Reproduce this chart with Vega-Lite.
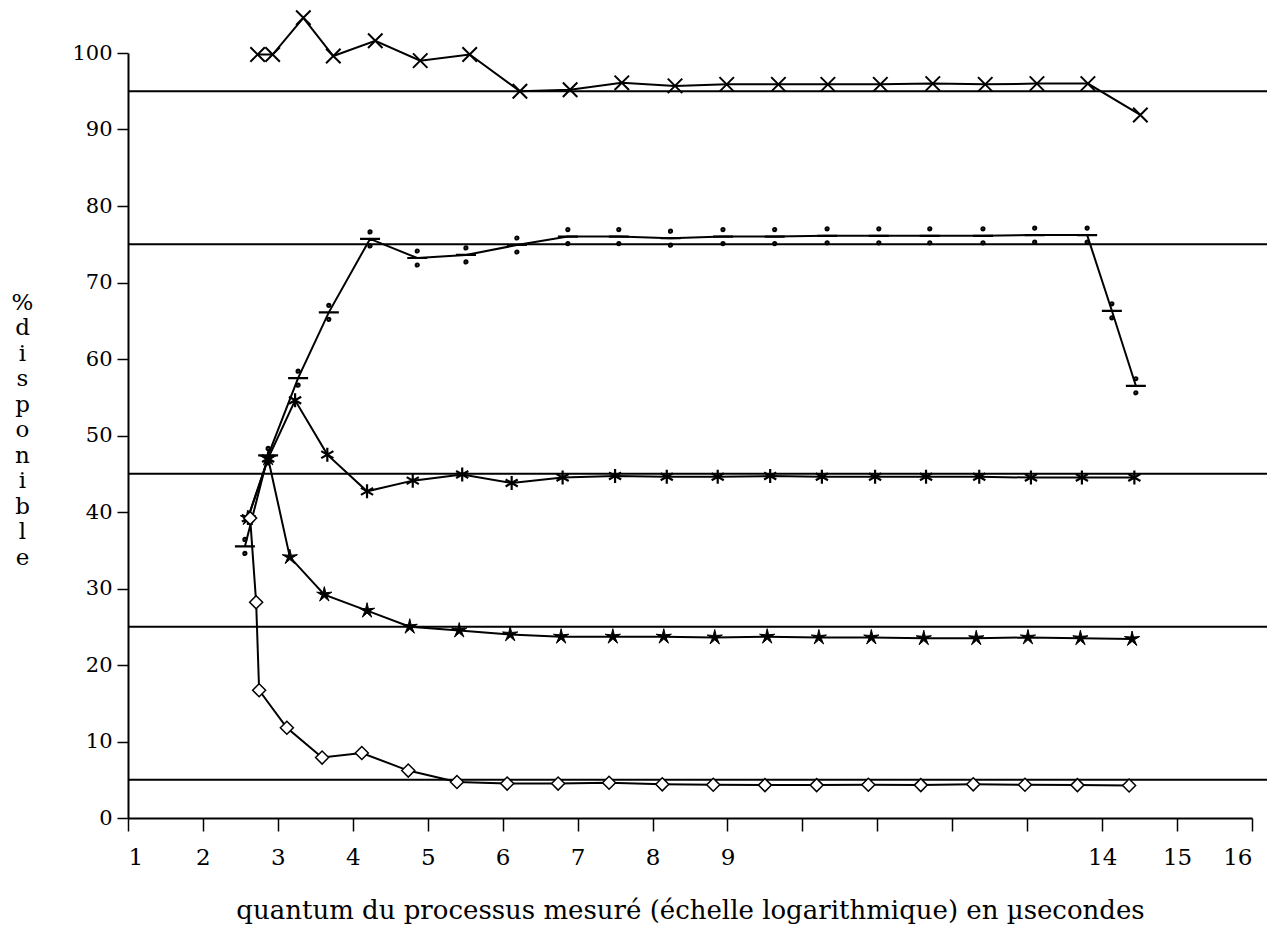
{
  "$schema": "https://vega.github.io/schema/vega-lite/v6.json",
  "autosize": "none",
  "width": 1124,
  "height": 765,
  "padding": {"left": 128, "top": 53, "right": 33, "bottom": 123},
  "background": "white",
  "datasets": {
    "niveaux": [
      {"y": 95, "x": 1, "x_fin": 16.2},
      {"y": 75, "x": 1, "x_fin": 16.2},
      {"y": 45, "x": 1, "x_fin": 16.2},
      {"y": 25, "x": 1, "x_fin": 16.2},
      {"y": 5, "x": 1, "x_fin": 16.2}
    ],
    "mesures": [
      {"serie": "croix", "x": 2.73, "y": 99.8},
      {"serie": "croix", "x": 2.93, "y": 99.8},
      {"serie": "croix", "x": 3.34, "y": 104.6},
      {"serie": "croix", "x": 3.74, "y": 99.6},
      {"serie": "croix", "x": 4.30, "y": 101.6},
      {"serie": "croix", "x": 4.90, "y": 99.0},
      {"serie": "croix", "x": 5.56, "y": 99.8},
      {"serie": "croix", "x": 6.23, "y": 95.0},
      {"serie": "croix", "x": 6.90, "y": 95.2},
      {"serie": "croix", "x": 7.59, "y": 96.1},
      {"serie": "croix", "x": 8.30, "y": 95.7},
      {"serie": "croix", "x": 8.99, "y": 95.9},
      {"serie": "croix", "x": 9.68, "y": 95.9},
      {"serie": "croix", "x": 10.34, "y": 95.9},
      {"serie": "croix", "x": 11.04, "y": 95.9},
      {"serie": "croix", "x": 11.74, "y": 96.0},
      {"serie": "croix", "x": 12.44, "y": 95.9},
      {"serie": "croix", "x": 13.13, "y": 96.0},
      {"serie": "croix", "x": 13.81, "y": 96.0},
      {"serie": "croix", "x": 14.51, "y": 91.9},

      {"serie": "division", "x": 2.56, "y": 35.5},
      {"serie": "division", "x": 2.87, "y": 47.4},
      {"serie": "division", "x": 3.27, "y": 57.5},
      {"serie": "division", "x": 3.68, "y": 66.1},
      {"serie": "division", "x": 4.23, "y": 75.7},
      {"serie": "division", "x": 4.86, "y": 73.2},
      {"serie": "division", "x": 5.51, "y": 73.6},
      {"serie": "division", "x": 6.19, "y": 74.9},
      {"serie": "division", "x": 6.87, "y": 76.0},
      {"serie": "division", "x": 7.55, "y": 76.0},
      {"serie": "division", "x": 8.24, "y": 75.8},
      {"serie": "division", "x": 8.94, "y": 76.0},
      {"serie": "division", "x": 9.63, "y": 76.0},
      {"serie": "division", "x": 10.33, "y": 76.1},
      {"serie": "division", "x": 11.02, "y": 76.1},
      {"serie": "division", "x": 11.70, "y": 76.1},
      {"serie": "division", "x": 12.41, "y": 76.1},
      {"serie": "division", "x": 13.10, "y": 76.2},
      {"serie": "division", "x": 13.80, "y": 76.2},
      {"serie": "division", "x": 14.13, "y": 66.3},
      {"serie": "division", "x": 14.45, "y": 56.5},

      {"serie": "asterisque", "x": 2.60, "y": 39.2},
      {"serie": "asterisque", "x": 2.87, "y": 47.0},
      {"serie": "asterisque", "x": 3.23, "y": 54.6},
      {"serie": "asterisque", "x": 3.66, "y": 47.5},
      {"serie": "asterisque", "x": 4.19, "y": 42.7},
      {"serie": "asterisque", "x": 4.80, "y": 44.1},
      {"serie": "asterisque", "x": 5.46, "y": 44.9},
      {"serie": "asterisque", "x": 6.12, "y": 43.8},
      {"serie": "asterisque", "x": 6.80, "y": 44.5},
      {"serie": "asterisque", "x": 7.50, "y": 44.7},
      {"serie": "asterisque", "x": 8.19, "y": 44.6},
      {"serie": "asterisque", "x": 8.87, "y": 44.6},
      {"serie": "asterisque", "x": 9.57, "y": 44.7},
      {"serie": "asterisque", "x": 10.26, "y": 44.6},
      {"serie": "asterisque", "x": 10.97, "y": 44.6},
      {"serie": "asterisque", "x": 11.65, "y": 44.6},
      {"serie": "asterisque", "x": 12.36, "y": 44.6},
      {"serie": "asterisque", "x": 13.05, "y": 44.5},
      {"serie": "asterisque", "x": 13.73, "y": 44.5},
      {"serie": "asterisque", "x": 14.43, "y": 44.5},

      {"serie": "etoile", "x": 2.60, "y": 39.2},
      {"serie": "etoile", "x": 2.87, "y": 47.0},
      {"serie": "etoile", "x": 3.16, "y": 34.1},
      {"serie": "etoile", "x": 3.62, "y": 29.2},
      {"serie": "etoile", "x": 4.19, "y": 27.1},
      {"serie": "etoile", "x": 4.76, "y": 25.0},
      {"serie": "etoile", "x": 5.42, "y": 24.5},
      {"serie": "etoile", "x": 6.10, "y": 24.0},
      {"serie": "etoile", "x": 6.78, "y": 23.7},
      {"serie": "etoile", "x": 7.47, "y": 23.7},
      {"serie": "etoile", "x": 8.15, "y": 23.7},
      {"serie": "etoile", "x": 8.83, "y": 23.6},
      {"serie": "etoile", "x": 9.53, "y": 23.7},
      {"serie": "etoile", "x": 10.22, "y": 23.6},
      {"serie": "etoile", "x": 10.92, "y": 23.6},
      {"serie": "etoile", "x": 11.62, "y": 23.5},
      {"serie": "etoile", "x": 12.32, "y": 23.5},
      {"serie": "etoile", "x": 13.01, "y": 23.6},
      {"serie": "etoile", "x": 13.71, "y": 23.5},
      {"serie": "etoile", "x": 14.40, "y": 23.4},

      {"serie": "losange", "x": 2.63, "y": 39.2},
      {"serie": "losange", "x": 2.71, "y": 28.2},
      {"serie": "losange", "x": 2.75, "y": 16.7},
      {"serie": "losange", "x": 3.12, "y": 11.8},
      {"serie": "losange", "x": 3.59, "y": 7.9},
      {"serie": "losange", "x": 4.12, "y": 8.5},
      {"serie": "losange", "x": 4.74, "y": 6.2},
      {"serie": "losange", "x": 5.39, "y": 4.7},
      {"serie": "losange", "x": 6.06, "y": 4.5},
      {"serie": "losange", "x": 6.74, "y": 4.5},
      {"serie": "losange", "x": 7.42, "y": 4.6},
      {"serie": "losange", "x": 8.13, "y": 4.4},
      {"serie": "losange", "x": 8.81, "y": 4.35},
      {"serie": "losange", "x": 9.50, "y": 4.3},
      {"serie": "losange", "x": 10.19, "y": 4.3},
      {"serie": "losange", "x": 10.88, "y": 4.35},
      {"serie": "losange", "x": 11.58, "y": 4.3},
      {"serie": "losange", "x": 12.28, "y": 4.4},
      {"serie": "losange", "x": 12.97, "y": 4.35},
      {"serie": "losange", "x": 13.67, "y": 4.3},
      {"serie": "losange", "x": 14.36, "y": 4.25}
    ]
  },
  "encoding": {
    "x": {
      "field": "x",
      "type": "quantitative",
      "scale": {"domain": [1, 16], "nice": false, "zero": false},
      "axis": {
        "values": [1, 2, 3, 4, 5, 6, 7, 8, 9, 10, 11, 12, 13, 14, 15, 16],
        "labelExpr": "datum.value >= 10 && datum.value <= 13 ? '' : datum.label",
        "title": "quantum du processus mesuré (échelle logarithmique) en µsecondes",
        "grid": false,
        "tickSize": 13,
        "labelPadding": 15,
        "labelFontSize": 23,
        "titleFontSize": 26,
        "titlePadding": 28
      }
    },
    "y": {
      "field": "y",
      "type": "quantitative",
      "scale": {"domain": [0, 100], "nice": false},
      "axis": {
        "values": [0, 10, 20, 30, 40, 50, 60, 70, 80, 90, 100],
        "title": ["%", "d", "i", "s", "p", "o", "n", "i", "b", "l", "e"],
        "grid": false,
        "tickSize": 11,
        "labelPadding": 5,
        "labelFontSize": 21,
        "titleFontSize": 23,
        "titleAngle": 0,
        "titleAlign": "center",
        "titleBaseline": "top",
        "titleX": -106,
        "titleY": 238,
        "titleLineHeight": 25.5
      }
    }
  },
  "layer": [
    {
      "data": {"name": "niveaux"},
      "mark": {"type": "rule", "color": "black", "strokeWidth": 2},
      "encoding": {"x2": {"field": "x_fin"}}
    },
    {
      "data": {"name": "mesures"},
      "mark": {"type": "line", "color": "black", "strokeWidth": 2},
      "encoding": {"detail": {"field": "serie"}}
    },
    {
      "data": {"name": "mesures"},
      "transform": [{"filter": "datum.serie === 'croix'"}],
      "mark": {"type": "point", "shape": "M-1,-1L1,1M-1,1L1,-1", "size": 210, "filled": false, "stroke": "black", "strokeWidth": 2, "opacity": 1}
    },
    {
      "data": {"name": "mesures"},
      "transform": [{"filter": "datum.serie === 'division'"}],
      "mark": {"type": "point", "shape": "M-1,0L1,0M-0.15,-0.7a0.15,0.15 0 1,0 0.3,0a0.15,0.15 0 1,0 -0.3,0M-0.15,0.7a0.15,0.15 0 1,0 0.3,0a0.15,0.15 0 1,0 -0.3,0", "size": 400, "filled": false, "stroke": "black", "strokeWidth": 2.2, "opacity": 1}
    },
    {
      "data": {"name": "mesures"},
      "transform": [{"filter": "datum.serie === 'asterisque'"}],
      "mark": {"type": "point", "shape": "M0,-1L0,1M-0.87,-0.5L0.87,0.5M-0.87,0.5L0.87,-0.5", "size": 196, "filled": false, "stroke": "black", "strokeWidth": 2.2, "opacity": 1}
    },
    {
      "data": {"name": "mesures"},
      "transform": [{"filter": "datum.serie === 'etoile'"}],
      "mark": {"type": "point", "shape": "M0,-1L0.176,-0.243L0.951,-0.309L0.285,0.093L0.588,0.809L0,0.3L-0.588,0.809L-0.285,0.093L-0.951,-0.309L-0.176,-0.243Z", "size": 256, "filled": true, "fill": "black", "stroke": "black", "strokeWidth": 1, "opacity": 1}
    },
    {
      "data": {"name": "mesures"},
      "transform": [{"filter": "datum.serie === 'losange'"}],
      "mark": {"type": "point", "shape": "diamond", "size": 169, "filled": true, "fill": "white", "stroke": "black", "strokeWidth": 1.5, "opacity": 1}
    }
  ],
  "config": {
    "view": {"stroke": null},
    "font": "DejaVu Serif",
    "axis": {
      "domainColor": "black",
      "domainWidth": 2,
      "tickColor": "black",
      "tickWidth": 1.5,
      "labelColor": "black",
      "labelFont": "DejaVu Serif",
      "titleColor": "black",
      "titleFont": "DejaVu Serif",
      "titleFontWeight": "normal"
    }
  }
}
